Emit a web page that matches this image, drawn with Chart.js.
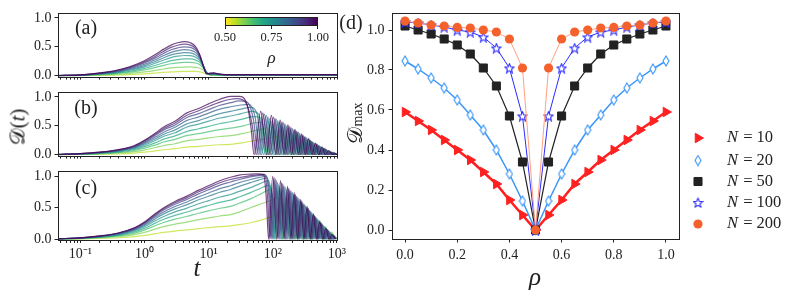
<!DOCTYPE html>
<html lang="en">
<head>
  <meta charset="UTF-8">
  <title>Trace distance vs time and rho</title>
  <script src="https://cdn.jsdelivr.net/npm/chart.js"></script>
  <style>
    * { box-sizing: border-box; margin: 0; padding: 0; }
    body { background: #fff; width: 789px; height: 293px; overflow: hidden; font-family: 'Liberation Serif', serif; color: #222; }
    #fig { position: relative; width: 789px; height: 293px; }
    .panel { position: absolute; }
    .txt { position: absolute; transform: translate(-50%, -50%); white-space: nowrap; line-height: 1; }
    .rot { transform: translate(-50%, -50%) rotate(-90deg); }
    .it { font-style: italic; }
    .cbar { position: absolute; left: 225px; top: 17px; width: 93px; height: 9px; border: 1px solid #222; }
    .ctick { position: absolute; top: 26px; width: 1px; height: 3px; background: #222; }
  </style>
</head>
<body>
<div id="fig">
  <div class="panel" style="left:0;top:0;width:349px;height:88px"><canvas id="pa"></canvas></div>
  <div class="panel" style="left:0;top:79px;width:349px;height:88px"><canvas id="pb"></canvas></div>
  <div class="panel" style="left:0;top:158px;width:349px;height:135px"><canvas id="pc"></canvas></div>
  <div class="panel" style="left:330px;top:0;width:459px;height:293px"><canvas id="pd"></canvas></div>

  <div class="txt" style="left:86px;top:27px;font-size:20px">(a)</div>
  <div class="txt" style="left:86px;top:107px;font-size:20px">(b)</div>
  <div class="txt" style="left:86px;top:187px;font-size:20px">(c)</div>
  <div class="txt" style="left:351px;top:22px;font-size:20px">(d)</div>
  <div class="txt rot" style="left:18px;top:127px;font-size:21px">𝒟(<span class="it">t</span>)</div>
  <div class="txt it" style="left:197px;top:267px;font-size:25px">t</div>
  <div class="txt it" style="left:535px;top:276px;font-size:25px">ρ</div>
  <div class="txt rot" style="left:355px;top:123px;font-size:21px">𝒟<span style="font-size:14px">max</span></div>

  <div class="cbar" id="cbar"></div>
  <div class="ctick" style="left:225px"></div>
  <div class="ctick" style="left:271px"></div>
  <div class="ctick" style="left:317px"></div>
  <div class="txt" style="left:225px;top:37px;font-size:12.5px">0.50</div>
  <div class="txt" style="left:271.5px;top:37px;font-size:12.5px">0.75</div>
  <div class="txt" style="left:318px;top:37px;font-size:12.5px">1.00</div>
  <div class="txt it" style="left:271.5px;top:57px;font-size:17px">ρ</div>
</div>
<script>
  // rho values of the curves in panels (a)-(c), yellow -> purple
  const rhoCurves = [0.55, 0.6, 0.65, 0.7, 0.75, 0.8, 0.85, 0.9, 0.95, 1.0];
  const viridis = ['#440154', '#482475', '#414487', '#355f8d', '#2a788e', '#21918c',
                   '#22a884', '#44bf70', '#7ad151', '#bddf26', '#fde725'];

  const tickMajorT = [0.1, 1, 10, 100, 1000];
  const tickMajorTLabels = ['10⁻¹', '10⁰', '10¹', '10²', '10³'];
  const leftYTicks = [0, 0.5, 1.0];

  // panel (a)
  const tA = [0.045, 0.1, 0.2, 0.35, 0.6, 1, 1.5, 2, 2.6, 3.3, 4.2, 5.2, 6.3, 7.3, 8.3, 9.3, 10.5, 12, 14, 18, 30, 100, 1000];
  const curvesA = [
    [0.001,0.002,0.006,0.011,0.02,0.033,0.047,0.058,0.067,0.072,0.075,0.077,0.075,0.068,0.052,0.03,0.012,0.006,0.004,0.003,0.003,0.003,0.003],
    [0.001,0.004,0.013,0.023,0.041,0.066,0.094,0.117,0.135,0.145,0.15,0.152,0.145,0.13,0.095,0.05,0.018,0.01,0.008,0.006,0.006,0.006,0.006],
    [0.002,0.006,0.02,0.035,0.062,0.101,0.144,0.18,0.207,0.222,0.23,0.232,0.22,0.19,0.13,0.06,0.02,0.015,0.012,0.008,0.008,0.008,0.008],
    [0.002,0.007,0.025,0.044,0.078,0.127,0.181,0.225,0.26,0.28,0.29,0.29,0.27,0.23,0.15,0.06,0.02,0.02,0.016,0.01,0.01,0.01,0.01],
    [0.002,0.009,0.03,0.053,0.095,0.154,0.22,0.273,0.314,0.338,0.35,0.348,0.32,0.265,0.165,0.055,0.02,0.025,0.02,0.013,0.013,0.013,0.013],
    [0.003,0.01,0.034,0.061,0.108,0.176,0.25,0.312,0.36,0.386,0.40,0.395,0.36,0.29,0.17,0.05,0.025,0.03,0.022,0.015,0.015,0.015,0.015],
    [0.003,0.011,0.038,0.069,0.122,0.198,0.282,0.351,0.404,0.435,0.45,0.44,0.40,0.31,0.17,0.045,0.03,0.035,0.025,0.016,0.016,0.016,0.016],
    [0.003,0.013,0.042,0.076,0.135,0.22,0.313,0.39,0.45,0.483,0.50,0.49,0.44,0.33,0.17,0.04,0.035,0.04,0.03,0.018,0.018,0.018,0.018],
    [0.004,0.014,0.046,0.083,0.148,0.24,0.342,0.425,0.49,0.527,0.545,0.53,0.47,0.35,0.17,0.035,0.04,0.045,0.03,0.02,0.02,0.02,0.02],
    [0.004,0.015,0.05,0.09,0.16,0.26,0.37,0.46,0.53,0.57,0.59,0.57,0.5,0.36,0.16,0.03,0.045,0.05,0.035,0.02,0.02,0.02,0.02]
  ];

  // panels (b) and (c): shared early-time grid, then per-curve tails
  const tRise = [0.045, 0.1, 0.2, 0.4, 0.7, 1, 1.5, 2, 3, 4.5, 7, 10, 15, 22];
  const riseB = [
    [0.001,0.004,0.008,0.016,0.029,0.045,0.068,0.086,0.104,0.13,0.145,0.16,0.173,0.18],
    [0.002,0.007,0.015,0.03,0.053,0.083,0.125,0.16,0.19,0.24,0.265,0.29,0.315,0.33],
    [0.002,0.009,0.02,0.04,0.073,0.114,0.17,0.22,0.265,0.33,0.365,0.40,0.435,0.46],
    [0.003,0.011,0.025,0.05,0.09,0.14,0.21,0.27,0.325,0.40,0.45,0.49,0.54,0.57],
    [0.003,0.013,0.03,0.06,0.105,0.165,0.25,0.32,0.38,0.475,0.53,0.58,0.635,0.67],
    [0.004,0.015,0.033,0.067,0.12,0.185,0.28,0.355,0.43,0.53,0.59,0.65,0.71,0.75],
    [0.004,0.016,0.037,0.074,0.13,0.205,0.31,0.39,0.475,0.59,0.655,0.72,0.79,0.83],
    [0.004,0.018,0.04,0.08,0.14,0.22,0.34,0.43,0.515,0.64,0.71,0.78,0.855,0.90],
    [0.005,0.019,0.043,0.085,0.15,0.24,0.36,0.455,0.55,0.68,0.76,0.835,0.91,0.96],
    [0.005,0.02,0.045,0.09,0.16,0.25,0.38,0.48,0.58,0.72,0.80,0.88,0.96,1.01]
  ];
  const tailTB = [
    [35, 55, 80, 110, 140, 170, 200, 235, 270, 310, 355, 405, 460, 520, 590, 670, 760, 860, 1000],
    [35, 55, 75, 90, 108, 128, 151, 177, 205, 236, 270, 307, 349, 395, 447, 505, 570, 643, 725, 818, 922],
    [35, 52, 68, 83, 100, 120, 142, 166, 192, 221, 253, 288, 327, 370, 418, 472, 533, 601, 678, 765, 862, 970],
    [35, 50, 64, 77, 94, 113, 134, 157, 182, 209, 239, 272, 309, 350, 395, 446, 503, 567, 640, 722, 814, 918],
    [32, 48, 60, 72, 89, 107, 127, 149, 172, 198, 227, 258, 293, 332, 375, 423, 477, 538, 607, 685, 772, 870, 980],
    [32, 45, 57, 67, 84, 101, 120, 141, 163, 188, 215, 245, 278, 315, 355, 400, 452, 510, 575, 648, 731, 825, 930],
    [32, 42, 53, 63, 79, 96, 114, 134, 155, 178, 204, 232, 263, 298, 336, 379, 428, 482, 544, 613, 692, 780, 880, 1000],
    [30, 40, 50, 59, 74, 91, 108, 127, 147, 169, 193, 220, 250, 283, 319, 360, 406, 458, 516, 582, 656, 740, 835, 940],
    [28, 38, 48, 55, 70, 86, 102, 120, 139, 160, 183, 208, 236, 267, 301, 340, 384, 434, 490, 552, 623, 703, 793, 895, 1000],
    [30, 40, 46, 51, 65, 80, 95, 112, 130, 150, 172, 195, 222, 250, 283, 320, 362, 410, 462, 520, 585, 660, 745, 840, 920, 1000]
  ];
  const tailDB = [
    [0.21, 0.25, 0.28, 0.31, 0.33, 0.32, 0.0, 0.3, 0.0, 0.26, 0.0, 0.21, 0.0, 0.15, 0.0, 0.09, 0.0, 0.04, 0.0],
    [0.37, 0.42, 0.45, 0.0, 0.44, 0.0, 0.42, 0.0, 0.38, 0.0, 0.32, 0.0, 0.26, 0.0, 0.19, 0.0, 0.13, 0.0, 0.07, 0.0, 0.02],
    [0.5, 0.55, 0.56, 0.0, 0.52, 0.0, 0.48, 0.0, 0.42, 0.0, 0.35, 0.0, 0.28, 0.0, 0.21, 0.0, 0.15, 0.0, 0.09, 0.0, 0.04, 0.0],
    [0.62, 0.66, 0.64, 0.0, 0.58, 0.0, 0.52, 0.0, 0.45, 0.0, 0.38, 0.0, 0.3, 0.0, 0.23, 0.0, 0.16, 0.0, 0.1, 0.0, 0.04, 0.0],
    [0.71, 0.75, 0.7, 0.0, 0.62, 0.0, 0.55, 0.0, 0.47, 0.0, 0.4, 0.0, 0.32, 0.0, 0.25, 0.0, 0.17, 0.0, 0.11, 0.0, 0.05, 0.0, 0.01],
    [0.79, 0.82, 0.7, 0.0, 0.65, 0.0, 0.58, 0.0, 0.5, 0.0, 0.42, 0.0, 0.34, 0.0, 0.27, 0.0, 0.19, 0.0, 0.12, 0.0, 0.06, 0.0, 0.02],
    [0.86, 0.87, 0.65, 0.0, 0.68, 0.0, 0.61, 0.0, 0.53, 0.0, 0.45, 0.0, 0.37, 0.0, 0.29, 0.0, 0.21, 0.0, 0.14, 0.0, 0.08, 0.0, 0.03, 0.0],
    [0.93, 0.91, 0.6, 0.0, 0.7, 0.0, 0.63, 0.0, 0.55, 0.0, 0.47, 0.0, 0.39, 0.0, 0.31, 0.0, 0.23, 0.0, 0.16, 0.0, 0.1, 0.0, 0.04, 0.0],
    [0.97, 0.9, 0.5, 0.0, 0.72, 0.0, 0.65, 0.0, 0.57, 0.0, 0.49, 0.0, 0.41, 0.0, 0.33, 0.0, 0.25, 0.0, 0.18, 0.0, 0.11, 0.0, 0.05, 0.0, 0.01],
    [1.01, 0.85, 0.45, 0.0, 0.75, 0.0, 0.68, 0.0, 0.6, 0.0, 0.52, 0.0, 0.44, 0.0, 0.36, 0.0, 0.28, 0.0, 0.2, 0.0, 0.13, 0.0, 0.07, 0.0, 0.03, 0.0]
  ];

  const riseC = [
    [0.001,0.004,0.011,0.021,0.038,0.058,0.087,0.107,0.128,0.145,0.166,0.181,0.198,0.21],
    [0.002,0.008,0.02,0.04,0.071,0.107,0.162,0.198,0.238,0.269,0.309,0.337,0.368,0.39],
    [0.003,0.011,0.026,0.053,0.095,0.143,0.216,0.264,0.317,0.359,0.412,0.449,0.491,0.52],
    [0.003,0.013,0.031,0.063,0.113,0.17,0.258,0.315,0.377,0.428,0.49,0.535,0.585,0.62],
    [0.004,0.014,0.036,0.072,0.13,0.195,0.296,0.36,0.433,0.49,0.562,0.613,0.67,0.71],
    [0.004,0.016,0.04,0.08,0.144,0.217,0.329,0.401,0.481,0.545,0.626,0.682,0.746,0.79],
    [0.004,0.017,0.043,0.086,0.155,0.233,0.354,0.432,0.518,0.587,0.673,0.734,0.803,0.85],
    [0.005,0.018,0.046,0.092,0.166,0.25,0.379,0.462,0.554,0.628,0.72,0.785,0.86,0.91],
    [0.005,0.019,0.048,0.097,0.174,0.26,0.396,0.483,0.58,0.656,0.753,0.82,0.897,0.95],
    [0.005,0.02,0.05,0.1,0.18,0.27,0.41,0.5,0.6,0.68,0.78,0.85,0.93,0.985]
  ];
  const tailTC = [
    [30, 45, 70, 100, 140, 190, 225, 255, 290, 328, 370, 417, 469, 527, 592, 664, 745, 835, 935],
    [30, 45, 70, 100, 125, 140, 160, 184, 210, 239, 271, 306, 344, 386, 432, 483, 539, 601, 670, 747, 832, 927],
    [30, 45, 65, 92, 105, 115, 135, 156, 179, 204, 231, 261, 293, 329, 369, 413, 462, 516, 577, 644, 719, 803, 896, 1000],
    [30, 45, 65, 88, 101, 110, 129, 149, 171, 195, 221, 249, 280, 315, 353, 396, 443, 495, 553, 618, 690, 771, 861, 962],
    [30, 45, 62, 85, 98, 106, 124, 143, 164, 187, 212, 239, 269, 302, 339, 380, 425, 475, 531, 593, 663, 741, 827, 924],
    [30, 45, 60, 82, 94, 102, 119, 137, 157, 179, 203, 229, 258, 290, 325, 364, 407, 455, 509, 569, 636, 711, 794, 886, 990],
    [30, 45, 60, 80, 91, 98, 114, 131, 150, 171, 194, 219, 247, 277, 311, 348, 390, 436, 488, 546, 610, 682, 762, 851, 950],
    [30, 45, 60, 78, 88, 94, 110, 126, 144, 164, 186, 210, 236, 265, 298, 334, 374, 418, 468, 524, 586, 655, 732, 818, 914],
    [30, 45, 60, 75, 84, 90, 105, 121, 138, 157, 178, 201, 226, 254, 285, 320, 358, 401, 449, 502, 562, 628, 702, 785, 877, 980],
    [30, 45, 60, 72, 80, 86, 100, 116, 132, 150, 170, 192, 216, 243, 273, 306, 343, 384, 430, 481, 538, 602, 673, 752, 840, 940]
  ];
  const tailDC = [
    [0.23, 0.26, 0.31, 0.37, 0.42, 0.45, 0.0, 0.44, 0.0, 0.4, 0.0, 0.34, 0.0, 0.26, 0.0, 0.18, 0.0, 0.09, 0.0],
    [0.43, 0.5, 0.57, 0.63, 0.66, 0.0, 0.66, 0.0, 0.62, 0.0, 0.56, 0.0, 0.48, 0.0, 0.39, 0.0, 0.3, 0.0, 0.2, 0.0, 0.11, 0.0],
    [0.57, 0.64, 0.72, 0.79, 0.5, 0.0, 0.76, 0.0, 0.71, 0.0, 0.64, 0.0, 0.55, 0.0, 0.45, 0.0, 0.35, 0.0, 0.25, 0.0, 0.15, 0.0, 0.06, 0.0],
    [0.67, 0.74, 0.81, 0.86, 0.55, 0.0, 0.82, 0.0, 0.75, 0.0, 0.68, 0.0, 0.58, 0.0, 0.48, 0.0, 0.37, 0.0, 0.27, 0.0, 0.16, 0.0, 0.07, 0.0],
    [0.76, 0.82, 0.88, 0.93, 0.6, 0.0, 0.86, 0.0, 0.79, 0.0, 0.71, 0.0, 0.61, 0.0, 0.5, 0.0, 0.39, 0.0, 0.28, 0.0, 0.18, 0.0, 0.08, 0.0],
    [0.84, 0.9, 0.94, 0.97, 0.6, 0.0, 0.9, 0.0, 0.83, 0.0, 0.74, 0.0, 0.64, 0.0, 0.53, 0.0, 0.42, 0.0, 0.31, 0.0, 0.2, 0.0, 0.1, 0.0, 0.02],
    [0.9, 0.95, 0.98, 1.0, 0.6, 0.0, 0.93, 0.0, 0.85, 0.0, 0.76, 0.0, 0.66, 0.0, 0.55, 0.0, 0.44, 0.0, 0.33, 0.0, 0.22, 0.0, 0.12, 0.0, 0.03],
    [0.95, 0.99, 1.01, 1.02, 0.6, 0.0, 0.96, 0.0, 0.88, 0.0, 0.78, 0.0, 0.68, 0.0, 0.57, 0.0, 0.46, 0.0, 0.35, 0.0, 0.24, 0.0, 0.13, 0.0, 0.04],
    [0.98, 1.01, 1.025, 1.03, 0.6, 0.0, 0.98, 0.0, 0.9, 0.0, 0.81, 0.0, 0.71, 0.0, 0.6, 0.0, 0.49, 0.0, 0.37, 0.0, 0.26, 0.0, 0.15, 0.0, 0.05, 0.0],
    [1.02, 1.035, 1.04, 1.03, 0.6, 0.0, 1.0, 0.0, 0.93, 0.0, 0.84, 0.0, 0.74, 0.0, 0.63, 0.0, 0.52, 0.0, 0.4, 0.0, 0.28, 0.0, 0.17, 0.0, 0.07, 0.0]
  ];

  // panel (d)
  const rho = [0, 0.05, 0.1, 0.15, 0.2, 0.25, 0.3, 0.35, 0.4, 0.45, 0.5, 0.55, 0.6, 0.65, 0.7, 0.75, 0.8, 0.85, 0.9, 0.95, 1.0];
  const dmaxN10  = [0.59, 0.545, 0.50, 0.45, 0.40, 0.35, 0.29, 0.23, 0.15, 0.075, 0.0, 0.075, 0.15, 0.23, 0.29, 0.35, 0.40, 0.45, 0.50, 0.545, 0.59];
  const dmaxN20  = [0.845, 0.805, 0.76, 0.71, 0.65, 0.575, 0.50, 0.40, 0.28, 0.145, 0.0, 0.145, 0.28, 0.40, 0.50, 0.575, 0.65, 0.71, 0.76, 0.805, 0.845];
  const dmaxN50  = [1.02, 1.0, 0.98, 0.955, 0.925, 0.88, 0.81, 0.72, 0.57, 0.34, 0.0, 0.34, 0.57, 0.72, 0.81, 0.88, 0.925, 0.955, 0.98, 1.0, 1.02];
  const dmaxN100 = [1.04, 1.035, 1.025, 1.015, 1.0, 0.99, 0.965, 0.91, 0.81, 0.57, 0.0, 0.57, 0.81, 0.91, 0.965, 0.99, 1.0, 1.015, 1.025, 1.035, 1.04];
  const dmaxN200 = [1.045, 1.035, 1.025, 1.02, 1.013, 1.01, 1.0, 0.99, 0.955, 0.81, 0.0, 0.81, 0.955, 0.99, 1.0, 1.01, 1.013, 1.02, 1.025, 1.035, 1.045];
  const xTicksD = [0, 0.2, 0.4, 0.6, 0.8, 1.0];
  const yTicksD = [0, 0.2, 0.4, 0.6, 0.8, 1.0];

  const serif = "'Liberation Serif', serif";
  const ink = '#222';

  document.getElementById('cbar').style.background =
    'linear-gradient(to right, ' + viridis.slice().reverse().join(', ') + ')';

  function rgba(hex, a) {
    const n = parseInt(hex.slice(1), 16);
    return `rgba(${n >> 16}, ${(n >> 8) & 255}, ${n & 255}, ${a})`;
  }

  // minor ticks of the log axis
  const allT = [];
  [0.01, 0.1, 1, 10, 100].forEach(d => {
    for (let m = 1; m <= 9; m++) {
      const v = +(m * d).toPrecision(3);
      if (v >= 0.045 && v <= 1000) allT.push(v);
    }
  });
  allT.push(1000);

  const boxPlugin = {
    id: 'box',
    afterDatasetsDraw(chart) {
      const { ctx, chartArea: a } = chart;
      ctx.save();
      ctx.strokeStyle = ink;
      ctx.lineWidth = 1;
      ctx.strokeRect(Math.round(a.left) + 0.5, Math.round(a.top) + 0.5,
                     Math.round(a.right - a.left), Math.round(a.bottom - a.top));
      ctx.restore();
    }
  };

  function leftOptions(showLabels, xHeight) {
    return {
      responsive: true, maintainAspectRatio: false, animation: false,
      layout: { padding: { top: 13, right: 12, left: 0, bottom: 0 } },
      plugins: { legend: { display: false }, tooltip: { enabled: false } },
      elements: { point: { radius: 0 }, line: { borderWidth: 1.2, cubicInterpolationMode: 'monotone' } },
      scales: {
        x: {
          type: 'logarithmic', min: 0.045, max: 1000,
          afterBuildTicks: s => { s.ticks = allT.map(v => ({ value: v })); },
          afterFit: s => { s.height = xHeight; },
          ticks: {
            display: showLabels, autoSkip: false, maxRotation: 0, padding: 3, color: ink,
            font: { family: serif, size: 14 },
            callback: v => { const i = tickMajorT.indexOf(v); return i >= 0 ? tickMajorTLabels[i] : ''; }
          },
          grid: { drawOnChartArea: false, drawTicks: true, tickLength: 3, color: ink },
          border: { display: false }
        },
        y: {
          min: -0.015, max: 1.085,
          afterBuildTicks: s => { s.ticks = leftYTicks.map(v => ({ value: v })); },
          afterFit: s => { s.width = 58; },
          ticks: { padding: 3, color: ink, font: { family: serif, size: 14 }, callback: v => v.toFixed(1) },
          grid: { drawOnChartArea: false, drawTicks: true, tickLength: 3.5, color: ink },
          border: { display: false }
        }
      }
    };
  }

  function curveSets(tGrid, heads, tailT, tailD) {
    const sets = heads.map((vals, k) => {
      const pts = tGrid.map((t, i) => ({ x: t, y: vals[i] }));
      if (tailT) tailT[k].forEach((t, i) => pts.push({ x: t, y: tailD[k][i] }));
      return {
        label: 'rho = ' + rhoCurves[k],
        data: pts,
        borderColor: rgba(viridis[9 - k], 0.72),
        fill: false
      };
    });
    return sets.reverse();   // purple drawn last (on top)
  }

  new Chart(document.getElementById('pa'), {
    type: 'line', data: { datasets: curveSets(tA, curvesA) },
    options: leftOptions(false, 7), plugins: [boxPlugin]
  });
  new Chart(document.getElementById('pb'), {
    type: 'line', data: { datasets: curveSets(tRise, riseB, tailTB, tailDB) },
    options: leftOptions(false, 7), plugins: [boxPlugin]
  });
  new Chart(document.getElementById('pc'), {
    type: 'line', data: { datasets: curveSets(tRise, riseC, tailTC, tailDC) },
    options: leftOptions(true, 53), plugins: [boxPlugin]
  });

  // custom markers
  function starMarker(size, color) {
    const c = document.createElement('canvas');
    c.width = c.height = size;
    const g = c.getContext('2d');
    g.beginPath();
    for (let i = 0; i < 10; i++) {
      const r = i % 2 ? size * 0.2 : size * 0.44;
      const a = -Math.PI / 2 + i * Math.PI / 5;
      g.lineTo(size / 2 + r * Math.cos(a), size / 2 + 0.6 + r * Math.sin(a));
    }
    g.closePath();
    g.fillStyle = '#fff'; g.fill();
    g.strokeStyle = color; g.lineWidth = 1.1; g.stroke();
    return c;
  }
  function diamondMarker(w, h, color) {
    const c = document.createElement('canvas');
    c.width = w; c.height = h;
    const g = c.getContext('2d');
    g.beginPath();
    g.moveTo(w / 2, 1); g.lineTo(w - 1, h / 2); g.lineTo(w / 2, h - 1); g.lineTo(1, h / 2);
    g.closePath();
    g.fillStyle = '#fff'; g.fill();
    g.strokeStyle = color; g.lineWidth = 1.1; g.stroke();
    return c;
  }

  const series = [
    { n: '10',  vals: dmaxN10,  line: '#ff2020', lw: 2.6, style: 'triangle', rot: 90, r: 5.5, fill: '#ff2020' },
    { n: '20',  vals: dmaxN20,  line: '#3a96f8', lw: 1.5, style: diamondMarker(8, 12, '#3a96f8'), rot: 0, r: 6, fill: '#fff' },
    { n: '50',  vals: dmaxN50,  line: '#222222', lw: 1.2, style: 'rect', rot: 0, r: 5.7, fill: '#222222' },
    { n: '100', vals: dmaxN100, line: '#2a2aff', lw: 1.0, style: starMarker(11, '#2a2aff'), rot: 0, r: 6, fill: '#fff' },
    { n: '200', vals: dmaxN200, line: '#ffa07f', lw: 1.0, style: 'circle', rot: 0, r: 4.6, fill: '#f5612c', edge: '#f5612c' }
  ];

  const legendPlugin = {
    id: 'nlegend',
    afterDraw(chart) {
      const ctx = chart.ctx;
      const ys = [138, 160.5, 181.5, 202.5, 224];
      ctx.save();
      series.forEach((s, i) => {
        const y = ys[i];
        ctx.fillStyle = s.fill;
        ctx.strokeStyle = s.edge || s.line;
        ctx.lineWidth = 1;
        Chart.helpers.drawPoint(ctx, { pointStyle: s.style, rotation: s.rot, radius: s.r, borderWidth: s.style === 'circle' ? 0 : 1 }, 368, y);
        ctx.fillStyle = ink;
        ctx.textBaseline = 'middle';
        ctx.font = 'italic 16.5px ' + serif;
        ctx.fillText('N', 397, y);
        const w = ctx.measureText('N').width;
        ctx.font = '16.5px ' + serif;
        ctx.fillText(' = ' + s.n, 397 + w + 1, y);
      });
      ctx.restore();
    }
  };

  const dSets = series.map(s => ({
    label: 'N = ' + s.n,
    data: rho.map((r, i) => ({ x: r, y: s.vals[i] })),
    borderColor: s.line,
    borderWidth: s.lw,
    pointStyle: s.style,
    pointRotation: s.rot,
    pointRadius: s.r,
    pointBackgroundColor: s.fill,
    pointBorderColor: s.edge || s.line,
    pointBorderWidth: s.style === 'circle' ? 0 : 1,
    tension: 0
  })).reverse();

  new Chart(document.getElementById('pd'), {
    type: 'line',
    data: { datasets: dSets },
    options: {
      responsive: true, maintainAspectRatio: false, animation: false,
      layout: { padding: { top: 13, right: 110, left: 0, bottom: 0 } },
      plugins: { legend: { display: false }, tooltip: { enabled: false } },
      scales: {
        x: {
          type: 'linear', min: -0.05, max: 1.05,
          afterBuildTicks: s => { s.ticks = xTicksD.map(v => ({ value: v })); },
          afterFit: s => { s.height = 54; },
          ticks: { padding: 4, color: ink, font: { family: serif, size: 14 }, callback: v => v.toFixed(1) },
          grid: { drawOnChartArea: false, drawTicks: true, tickLength: 3.5, color: ink },
          border: { display: false }
        },
        y: {
          min: -0.045, max: 1.085,
          afterBuildTicks: s => { s.ticks = yTicksD.map(v => ({ value: v })); },
          afterFit: s => { s.width = 62; },
          ticks: { padding: 4, color: ink, font: { family: serif, size: 14 }, callback: v => v.toFixed(1) },
          grid: { drawOnChartArea: false, drawTicks: true, tickLength: 3.5, color: ink },
          border: { display: false }
        }
      }
    },
    plugins: [boxPlugin, legendPlugin]
  });
</script>
</body>
</html>
